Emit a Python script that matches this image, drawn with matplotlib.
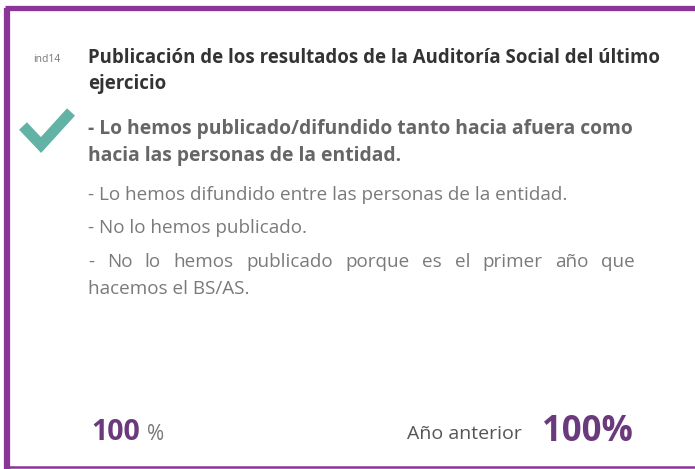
import matplotlib
matplotlib.use('Agg')
from matplotlib import pyplot as plt

plt.rcParams['font.family'] = ['Open Sans', 'DejaVu Sans']

# card content
indicator = 'ind14'
title_lines = ['Publicación de los resultados de la Auditoría Social del último',
               'ejercicio']
selected_lines = ['- Lo hemos publicado/difundido tanto hacia afuera como',
                  'hacia las personas de la entidad.']
other_options = ['- Lo hemos difundido entre las personas de la entidad.',
                 '- No lo hemos publicado.',
                 '- No lo hemos publicado porque es el primer año que',
                 'hacemos el BS/AS.']
justified = [False, False, True, False]
value_now = 100
value_prev = 100

purple = '#8a3597'
dark_purple = '#6a3a7c'
teal = '#63b2a6'

W, H = 695, 469
fig = plt.figure(figsize=(W / 100, H / 100), dpi=100)
ax = fig.add_axes([0, 0, 1, 1])
ax.set_xlim(0, W)
ax.set_ylim(H, 0)
ax.axis('off')
renderer = fig.canvas.get_renderer()


def justify(x0, x1, y, line, **kw):
    # spread words so the line fills x0..x1
    words = line.split(' ')
    widths = []
    for w in words:
        t = ax.text(0, y, w, **kw)
        widths.append(t.get_window_extent(renderer).width)
        t.remove()
    gap = (x1 - x0 - sum(widths)) / (len(words) - 1)
    x = x0
    for w, wd in zip(words, widths):
        ax.text(x, y, w, **kw)
        x += wd + gap


# frame: left, top, bottom
ax.plot([7, 7], [8, 469], color=purple, lw=4.5, solid_capstyle='butt')
ax.plot([5, 695], [8.5, 8.5], color=purple, lw=3.8, solid_capstyle='butt')
ax.plot([5, 695], [467.5, 467.5], color=purple, lw=1.8, solid_capstyle='butt')

ax.text(33, 59, indicator, fontsize=7.5, color='#777777', va='center')
for i, line in enumerate(title_lines):
    ax.text(88, 58 + i * 26, line, fontsize=13.4, fontweight='bold',
            color='#333333', va='center')

# check mark
ax.plot([23, 41, 71], [126, 145, 112], color=teal, lw=7.8, solid_capstyle='butt',
        solid_joinstyle='miter')

for i, line in enumerate(selected_lines):
    ax.text(88, 129 + i * 27, line, fontsize=13.9, fontweight='bold',
            color='#666666', va='center')

ys = [195, 228, 262, 289]
for y, opt, j in zip(ys, other_options, justified):
    if j:
        justify(88, 635, y, opt, fontsize=13.6, color='#7a7a7a', va='center')
    else:
        ax.text(88, y, opt, fontsize=13.6, color='#7a7a7a', va='center')

ax.text(91, 432, str(value_now), fontsize=20.5, fontweight='bold',
        color=dark_purple, va='center')
ax.text(147, 434, '%', fontsize=15, color='#777777', va='center')
ax.text(407, 434, 'Año anterior', fontsize=14,
        color='#555555', va='center')
ax.text(542, 432, f'{value_prev}%', fontsize=25, fontweight='bold',
        color=dark_purple, va='center')

fig.savefig('out.png', dpi=100)
